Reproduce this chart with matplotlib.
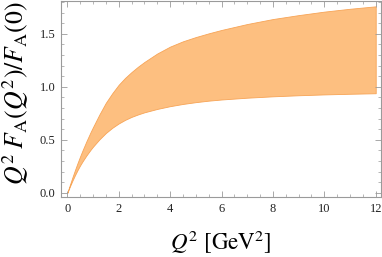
import matplotlib
matplotlib.use("Agg")
import matplotlib.pyplot as plt
from matplotlib.ticker import MultipleLocator, FormatStrFormatter

# values (Q^2 in GeV^2)
q2 = [0, 0.1, 0.2, 0.3, 0.4, 0.5, 0.6, 0.75, 0.9, 1.0, 1.25, 1.5, 1.75, 2.0,
      2.25, 2.5, 2.75, 3.0, 3.5, 4.0, 4.5, 5.0, 5.5, 6.0, 7.0, 8.0, 9.0, 10.0,
      11.0, 12.0]
upper = [0, 0.075, 0.147, 0.216, 0.282, 0.345, 0.405, 0.49, 0.57, 0.62, 0.74,
         0.85, 0.94, 1.02, 1.085, 1.14, 1.19, 1.235, 1.315, 1.38, 1.43, 1.47,
         1.505, 1.537, 1.593, 1.64, 1.677, 1.71, 1.737, 1.76]
lower = [0, 0.06, 0.116, 0.168, 0.216, 0.26, 0.30, 0.355, 0.405, 0.436, 0.505,
         0.565, 0.614, 0.655, 0.689, 0.717, 0.74, 0.76, 0.792, 0.818, 0.839,
         0.856, 0.87, 0.881, 0.898, 0.911, 0.921, 0.929, 0.935, 0.94]

plt.rcParams['mathtext.fontset'] = 'stix'
plt.rcParams['font.family'] = ['Liberation Serif', 'DejaVu Serif']

fig = plt.figure(figsize=(3.82, 2.57), dpi=100)
ax = fig.add_axes([0.160, 0.233, 0.837, 0.763])

ax.fill_between(q2, lower, upper, facecolor='#fdbf80', edgecolor='#f7a456',
                linewidth=0.6)

ax.set_xlim(-0.24, 12.2)
ax.set_ylim(-0.04, 1.81)
ax.xaxis.set_major_locator(MultipleLocator(2))
ax.xaxis.set_minor_locator(MultipleLocator(0.5))
ax.yaxis.set_major_locator(MultipleLocator(0.5))
ax.yaxis.set_minor_locator(MultipleLocator(0.1))
ax.yaxis.set_major_formatter(FormatStrFormatter('%.1f'))

for s in ax.spines.values():
    s.set_color('#9a9a9a')
    s.set_linewidth(0.8)
ax.tick_params(which='both', direction='in', top=True, right=True,
               color='#9a9a9a', labelsize=9, labelcolor='#222222')
ax.tick_params(which='major', length=4, width=0.6, pad=4)
ax.tick_params(which='minor', length=2.2, width=0.5)

ax.set_xlabel(r'$Q^2\ [\mathrm{GeV}^2]$', fontsize=16.5, labelpad=10)
ax.set_ylabel(r'$Q^2\;F_{\mathrm{A}}(Q^2)/F_{\mathrm{A}}(0)$',
              fontsize=18.5)
ax.yaxis.set_label_coords(-0.095, 0.53)

fig.savefig('out.png', dpi=100)
